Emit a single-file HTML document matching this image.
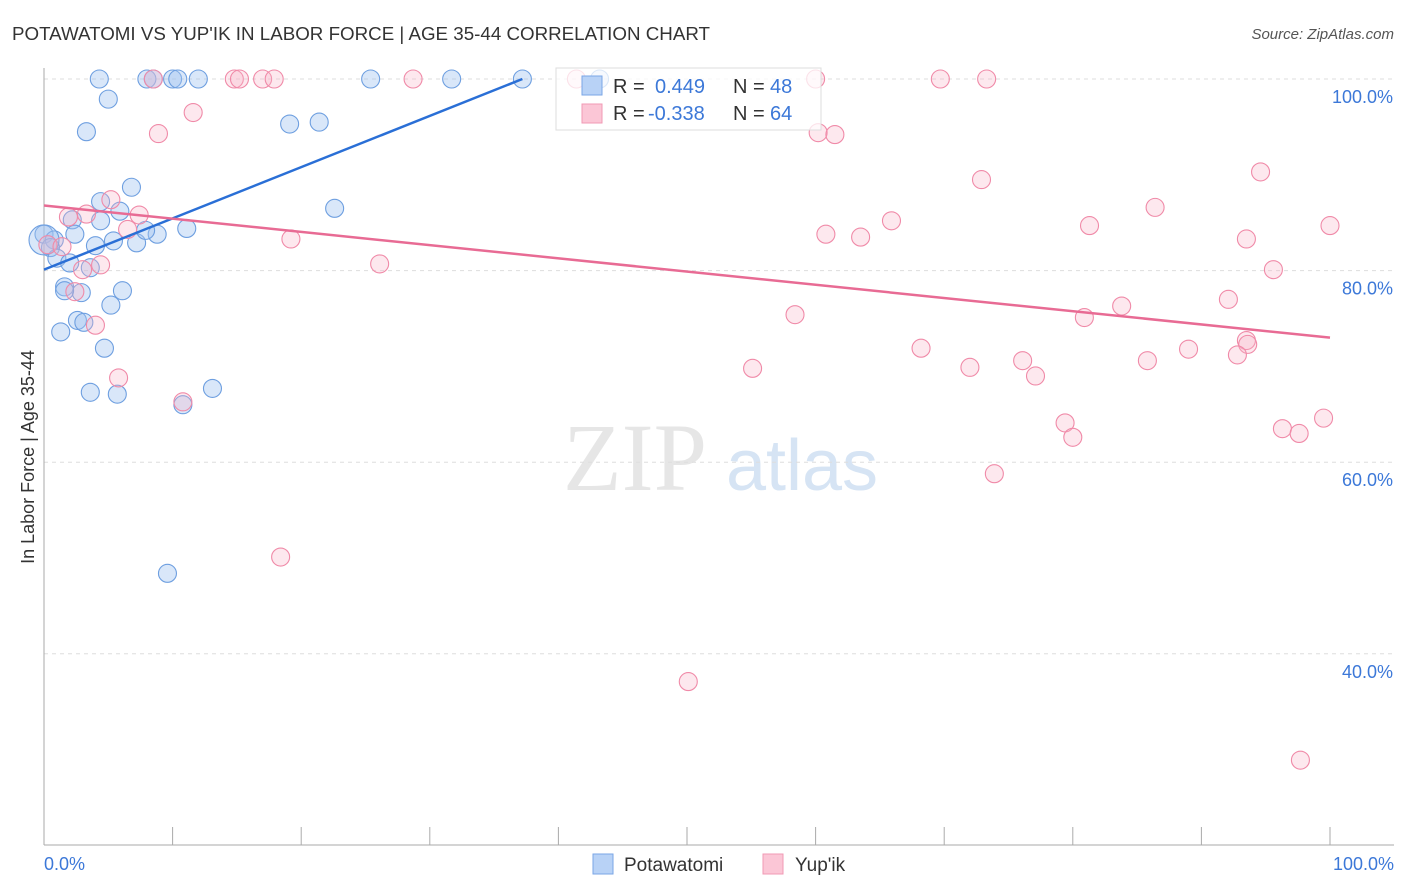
<!DOCTYPE html>
<html><head><meta charset="utf-8"><style>
html,body{margin:0;padding:0;background:#fff;}
body{width:1406px;height:892px;overflow:hidden;font-family:"Liberation Sans",sans-serif;}
</style></head><body>
<svg id="chart" width="1406" height="892" xmlns="http://www.w3.org/2000/svg" style="position:absolute;left:0;top:0">
<text x="12" y="40" font-size="18" fill="#333" textLength="698" lengthAdjust="spacingAndGlyphs">POTAWATOMI VS YUP'IK IN LABOR FORCE | AGE 35-44 CORRELATION CHART</text>
<text x="1394" y="39" font-size="15" fill="#555" text-anchor="end" font-style="italic">Source: ZipAtlas.com</text>
<text transform="translate(34,457) rotate(-90)" font-size="18" fill="#333" text-anchor="middle">In Labor Force | Age 35-44</text>
<g>
<text x="635" y="490" font-size="96" font-family="Liberation Serif,serif" fill="#e6e6e6" text-anchor="middle">ZIP</text>
<text x="802" y="490" font-size="72" fill="#d6e4f4" text-anchor="middle">atlas</text>
</g>
<g id="grid"></g>
<g id="axes"></g>
<g id="pts"></g>
<g id="trend"></g>
<g>
<rect x="556" y="68" width="265" height="62" fill="rgba(255,255,255,0.75)" stroke="#ddd"/>
<rect x="582" y="76" width="20" height="19" fill="#b8d2f6" stroke="#7aa6e6"/>
<rect x="582" y="104" width="20" height="19" fill="#fbc6d6" stroke="#f09ab4"/>
<text x="613" y="93" font-size="20" fill="#333">R = </text><text x="655" y="93" font-size="20" fill="#3c78d8">0.449</text>
<text x="733" y="93" font-size="20" fill="#333">N = </text><text x="770" y="93" font-size="20" fill="#3c78d8">48</text>
<text x="613" y="120" font-size="20" fill="#333">R = </text><text x="648" y="120" font-size="20" fill="#3c78d8">-0.338</text>
<text x="733" y="120" font-size="20" fill="#333">N = </text><text x="770" y="120" font-size="20" fill="#3c78d8">64</text>
</g>
<g>
<rect x="593" y="854" width="20" height="20" fill="#b8d2f6" stroke="#7aa6e6"/>
<text x="624" y="871" font-size="19" fill="#333">Potawatomi</text>
<rect x="763" y="854" width="20" height="20" fill="#fbc6d6" stroke="#f09ab4"/>
<text x="795" y="871" font-size="19" fill="#333">Yup'ik</text>
</g>
</svg>
<script>
const yTicks=[100,80,60,40];
const yTickLabels=["100.0%","80.0%","60.0%","40.0%"];
const xTicks=[0,10,20,30,40,50,60,70,80,90,100];
const xEndLabels=["0.0%","100.0%"];
const blueX=[4.3,8.0,8.5,10.0,10.4,12.0,25.4,31.7,37.2,43.2,5.0,3.3,19.1,21.4,6.8,22.6,4.4,5.9,2.2,4.4,2.4,0,0.8,4.0,5.4,7.2,8.8,7.9,11.1,0.5,1.0,2.0,3.6,1.6,2.9,1.6,6.1,5.2,2.6,3.1,1.3,4.7,3.6,5.7,13.1,10.8,9.6,0];
const blueY=[100,100,100,100,100,100,100,100,100,100,97.9,94.5,95.3,95.5,88.7,86.5,87.2,86.2,85.3,85.2,83.8,83.8,83.2,82.6,83.1,82.9,83.8,84.2,84.4,82.4,81.3,80.8,80.3,78.3,77.7,77.9,77.9,76.4,74.8,74.6,73.6,71.9,67.3,67.1,67.7,66.0,48.4,83.2];
const pinkX=[8.5,14.8,15.2,17.0,17.9,28.7,41.4,60.0,69.7,73.3,11.6,8.9,60.2,61.5,72.9,94.6,86.4,5.2,1.9,3.3,7.4,6.5,19.2,81.3,65.9,60.8,63.5,100,93.5,0.3,1.4,4.4,3.0,26.1,95.6,2.4,92.1,83.8,58.4,80.9,4.0,68.2,89.0,93.5,93.6,92.8,85.8,76.1,72.0,55.1,77.1,5.8,10.8,79.4,80.0,96.3,97.6,99.5,73.9,18.4,50.1,97.7];
const pinkY=[100,100,100,100,100,100,100,100,100,100,96.5,94.3,94.4,94.2,89.5,90.3,86.6,87.4,85.6,85.9,85.8,84.3,83.3,84.7,85.2,83.8,83.5,84.7,83.3,82.7,82.5,80.6,80.1,80.7,80.1,77.8,77.0,76.3,75.4,75.1,74.3,71.9,71.8,72.7,72.3,71.2,70.6,70.6,69.9,69.8,69.0,68.8,66.3,64.1,62.6,63.5,63.0,64.6,58.8,50.1,37.1,28.9];
const blueTrend=[[0,80.1],[37.2,100]];
const pinkTrend=[[0,86.8],[100,73.0]];
const NS="http://www.w3.org/2000/svg";
const sx=v=>44+v*12.86;
const sy=v=>79+(100-v)*9.58;
function mk(tag,attrs,parent){const e=document.createElementNS(NS,tag);for(const k in attrs)e.setAttribute(k,attrs[k]);parent.appendChild(e);return e;}
const grid=document.getElementById('grid'),axes=document.getElementById('axes'),pts=document.getElementById('pts'),tr=document.getElementById('trend');
yTicks.forEach((t,i)=>{
 const l=mk('line',{x1:44,x2:1394,y1:sy(t),y2:sy(t),stroke:'#ddd','stroke-dasharray':'4,4'},grid);
 
 
 const tx=mk('text',{x:1393,y:sy(t)+24,'font-size':18,fill:'#3c78d8','text-anchor':'end'},axes);
 tx.textContent=yTickLabels[i];
 
 
});
const ya=mk('line',{x1:44,x2:44,y1:68,y2:845,stroke:'#aaa'},axes);


const xa=mk('line',{x1:44,x2:1394,y1:845,y2:845,stroke:'#aaa'},axes);


xTicks.forEach(t=>{
 const l=mk('line',{x1:sx(t),x2:sx(t),y1:827,y2:845,stroke:'#aaa'},axes);
 
 
});
[[0,'start',44],[100,'end',1394]].forEach((a,i)=>{
 const tx=mk('text',{x:a[2],y:870,'font-size':18,fill:'#3c78d8','text-anchor':a[1]},axes);
 tx.textContent=xEndLabels[i];
 
 
});
blueX.forEach((x,i)=>{
 const r=(i===blueX.length-1)?15:9;
 const c=mk('circle',{cx:sx(x),cy:sy(blueY[i]),r:r,fill:'rgba(160,196,240,0.4)',stroke:'#6e9fe0','stroke-width':1.1},pts);
 
 
});
pinkX.forEach((x,i)=>{
 const c=mk('circle',{cx:sx(x),cy:sy(pinkY[i]),r:9,fill:'rgba(248,180,200,0.3)',stroke:'#f08aa8','stroke-width':1.1},pts);
 
 
});
const bl=mk('line',{x1:sx(blueTrend[0][0]),y1:sy(blueTrend[0][1]),x2:sx(blueTrend[1][0]),y2:sy(blueTrend[1][1]),stroke:'#2a6fd6','stroke-width':2.5},tr);


const pl=mk('line',{x1:sx(pinkTrend[0][0]),y1:sy(pinkTrend[0][1]),x2:sx(pinkTrend[1][0]),y2:sy(pinkTrend[1][1]),stroke:'#e86b94','stroke-width':2.5},tr);


</script>
</body></html>
